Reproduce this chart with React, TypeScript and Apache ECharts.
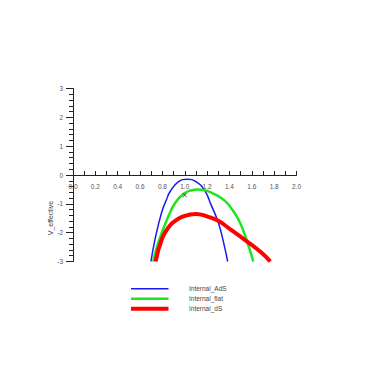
import React, { useEffect, useRef } from "react";
import * as echarts from "echarts";

const seriesNames = ["Internal_AdS", "Internal_flat", "Internal_dS"];
const seriesColors = ["#1a1af0", "#1ee61e", "#ff0000"];
const seriesWidths = [1.5, 2.5, 4];

const adsX = [0.698, 0.733, 0.793, 0.838, 0.868, 0.942, 1.022, 1.1, 1.18, 1.234, 1.3, 1.345, 1.384];
const adsY = [-3.0, -2.25, -1.3, -0.84, -0.58, -0.24, -0.15, -0.23, -0.55, -1.02, -1.65, -2.3, -3.0];

const flatX = [0.718, 0.75, 0.79, 0.823, 0.852, 0.912, 0.987, 1.06, 1.12, 1.18, 1.27, 1.36, 1.434, 1.494, 1.555, 1.613];
const flatY = [-3.0, -2.5, -2.05, -1.72, -1.45, -0.98, -0.66, -0.53, -0.5, -0.53, -0.67, -0.9, -1.25, -1.65, -2.27, -3.0];

const dsX = [0.74, 0.8, 0.868, 0.912, 0.97, 1.05, 1.1, 1.21, 1.3, 1.39, 1.553, 1.688, 1.765];
const dsY = [-3.0, -2.18, -1.75, -1.6, -1.46, -1.37, -1.35, -1.45, -1.59, -1.83, -2.29, -2.7, -3.0];

const markerX = [1.0];
const markerY = [-0.7];

const xMin = 0;
const xMax = 2.0;
const xStep = 0.2;
const yMin = -3;
const yMax = 3;
const yStep = 1;
const yName = "V_effective";

const zip = (xs: number[], ys: number[]) => xs.map((x, i) => [x, ys[i]]);

export default function App() {
  const ref = useRef<HTMLDivElement>(null);
  useEffect(() => {
    if (!ref.current) return;
    const chart = echarts.init(ref.current, undefined, { renderer: "svg" });
    const font = "'Liberation Sans', Arial, sans-serif";
    const lines = [zip(adsX, adsY), zip(flatX, flatY), zip(dsX, dsY)];
    const legendTop = 288.7;
    const legendGap = 10;
    const gridHeight = 173;
    // distance from the grid bottom up to the y = 0 line
    const zeroOffset = -(gridHeight * (0 - yMin)) / (yMax - yMin);
    chart.setOption({
      animation: false,
      grid: { left: 73, top: 88.5, width: 223.5, height: gridHeight, containLabel: false },
      xAxis: {
        type: "value",
        min: xMin,
        max: xMax,
        interval: xStep,
        offset: zeroOffset,
        axisLine: { onZero: false, lineStyle: { color: "#222", width: 1 } },
        axisTick: { show: true, inside: true, length: 4, lineStyle: { color: "#222" } },
        minorTick: { show: true, splitNumber: 2, length: 4, lineStyle: { color: "#222" } },
        splitLine: { show: false },
        axisLabel: {
          fontSize: 6.5,
          color: "#555",
          fontFamily: font,
          margin: 8,
          formatter: (v: number) => v.toFixed(1),
        },
      },
      yAxis: {
        type: "value",
        min: yMin,
        max: yMax,
        interval: yStep,
        axisLine: { show: true, onZero: false, lineStyle: { color: "#222", width: 1 } },
        axisTick: { show: true, inside: false, length: 7, lineStyle: { color: "#222" } },
        minorTick: { show: true, splitNumber: 5, length: 4, lineStyle: { color: "#222" } },
        splitLine: { show: false },
        axisLabel: { fontSize: 6.5, color: "#555", fontFamily: font, margin: 10 },
      },
      series: [
        ...lines.map((d, i) => ({
          name: seriesNames[i],
          type: "line",
          data: d,
          smooth: 0.5,
          showSymbol: false,
          lineStyle: { color: seriesColors[i], width: seriesWidths[i] },
          itemStyle: { color: seriesColors[i] },
          z: 2 + i,
        })),
        {
          type: "scatter",
          data: zip(markerX, markerY),
          symbol: "path://M0,0L10,10M10,0L0,10",
          symbolSize: 4,
          itemStyle: { color: "transparent", borderColor: "#333", borderWidth: 1 },
          z: 10,
        },
      ],
      graphic: [
        {
          type: "text",
          x: 50,
          y: 218,
          rotation: Math.PI / 2,
          style: {
            text: yName,
            fontSize: 7,
            fill: "#444",
            fontFamily: font,
            align: "center",
            verticalAlign: "middle",
          },
        },
        ...seriesNames.flatMap((n, i) => [
          {
            type: "line",
            shape: { x1: 131, y1: legendTop + i * legendGap, x2: 168.5, y2: legendTop + i * legendGap },
            style: { stroke: seriesColors[i], lineWidth: seriesWidths[i] },
          },
          {
            type: "text",
            x: 189,
            y: legendTop + i * legendGap,
            style: {
              text: n,
              fontSize: 6.5,
              fill: "#444",
              fontFamily: font,
              align: "left",
              verticalAlign: "middle",
            },
          },
        ]),
      ],
    });
    return () => chart.dispose();
  }, []);
  return (
    <div
      ref={ref}
      style={{ position: "fixed", left: 0, top: 0, width: 382, height: 382, background: "#fff" }}
    />
  );
}
